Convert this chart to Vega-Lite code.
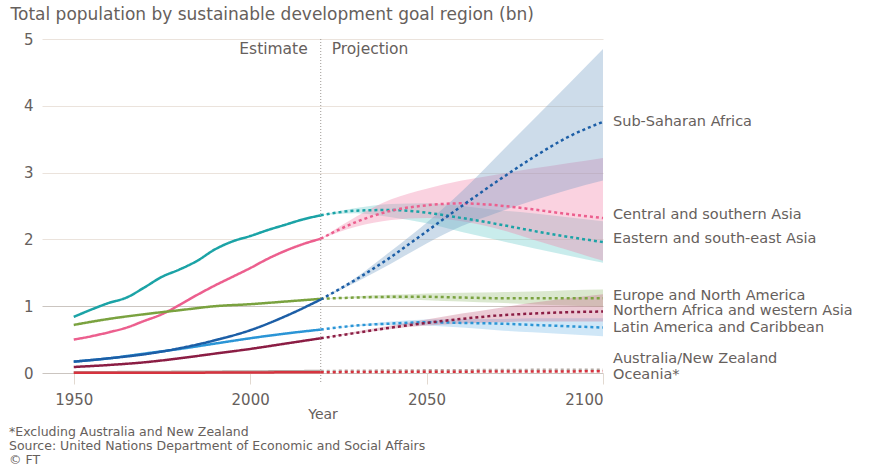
{
  "$schema": "https://vega.github.io/schema/vega-lite/v6.json",
  "width": 561,
  "height": 334,
  "autosize": {"type": "none"},
  "padding": {"left": 42, "top": 39, "right": 278, "bottom": 93},
  "background": "white",
  "config": {"view": {"stroke": null}, "font": "DejaVu Sans"},
  "title": {
    "text": ["*Excluding Australia and New Zealand", "Source: United Nations Department of Economic and Social Affairs", "© FT"],
    "orient": "bottom", "anchor": "start", "frame": "group", "dx": -33, "offset": 5,
    "fontSize": 12.5, "fontWeight": "normal", "color": "#66605c", "lineHeight": 14, "font": "DejaVu Sans"
  },
  "datasets": {
    "pop": [
      {"r": "Eastern and south-east Asia", "year": 1950, "v": 0.84, "p": "E"},
      {"r": "Eastern and south-east Asia", "year": 1955, "v": 0.95, "p": "E"},
      {"r": "Eastern and south-east Asia", "year": 1960, "v": 1.05, "p": "E"},
      {"r": "Eastern and south-east Asia", "year": 1965, "v": 1.13, "p": "E"},
      {"r": "Eastern and south-east Asia", "year": 1970, "v": 1.28, "p": "E"},
      {"r": "Eastern and south-east Asia", "year": 1975, "v": 1.44, "p": "E"},
      {"r": "Eastern and south-east Asia", "year": 1980, "v": 1.55, "p": "E"},
      {"r": "Eastern and south-east Asia", "year": 1985, "v": 1.68, "p": "E"},
      {"r": "Eastern and south-east Asia", "year": 1990, "v": 1.85, "p": "E"},
      {"r": "Eastern and south-east Asia", "year": 1995, "v": 1.97, "p": "E"},
      {"r": "Eastern and south-east Asia", "year": 2000, "v": 2.05, "p": "E"},
      {"r": "Eastern and south-east Asia", "year": 2005, "v": 2.14, "p": "E"},
      {"r": "Eastern and south-east Asia", "year": 2010, "v": 2.22, "p": "E"},
      {"r": "Eastern and south-east Asia", "year": 2015, "v": 2.30, "p": "E"},
      {"r": "Eastern and south-east Asia", "year": 2020, "v": 2.36, "p": "E"},
      {"r": "Eastern and south-east Asia", "year": 2020, "v": 2.36, "lo": 2.36, "hi": 2.36, "p": "P"},
      {"r": "Eastern and south-east Asia", "year": 2030, "v": 2.43, "lo": 2.39, "hi": 2.47, "p": "P"},
      {"r": "Eastern and south-east Asia", "year": 2040, "v": 2.44, "lo": 2.33, "hi": 2.53, "p": "P"},
      {"r": "Eastern and south-east Asia", "year": 2050, "v": 2.40, "lo": 2.24, "hi": 2.54, "p": "P"},
      {"r": "Eastern and south-east Asia", "year": 2060, "v": 2.32, "lo": 2.11, "hi": 2.50, "p": "P"},
      {"r": "Eastern and south-east Asia", "year": 2070, "v": 2.23, "lo": 1.99, "hi": 2.44, "p": "P"},
      {"r": "Eastern and south-east Asia", "year": 2080, "v": 2.13, "lo": 1.87, "hi": 2.39, "p": "P"},
      {"r": "Eastern and south-east Asia", "year": 2090, "v": 2.04, "lo": 1.76, "hi": 2.33, "p": "P"},
      {"r": "Eastern and south-east Asia", "year": 2100, "v": 1.96, "lo": 1.65, "hi": 2.27, "p": "P"},

      {"r": "Central and southern Asia", "year": 1950, "v": 0.50, "p": "E"},
      {"r": "Central and southern Asia", "year": 1955, "v": 0.55, "p": "E"},
      {"r": "Central and southern Asia", "year": 1960, "v": 0.61, "p": "E"},
      {"r": "Central and southern Asia", "year": 1965, "v": 0.68, "p": "E"},
      {"r": "Central and southern Asia", "year": 1970, "v": 0.78, "p": "E"},
      {"r": "Central and southern Asia", "year": 1975, "v": 0.88, "p": "E"},
      {"r": "Central and southern Asia", "year": 1980, "v": 1.02, "p": "E"},
      {"r": "Central and southern Asia", "year": 1985, "v": 1.17, "p": "E"},
      {"r": "Central and southern Asia", "year": 1990, "v": 1.31, "p": "E"},
      {"r": "Central and southern Asia", "year": 1995, "v": 1.44, "p": "E"},
      {"r": "Central and southern Asia", "year": 2000, "v": 1.57, "p": "E"},
      {"r": "Central and southern Asia", "year": 2005, "v": 1.71, "p": "E"},
      {"r": "Central and southern Asia", "year": 2010, "v": 1.83, "p": "E"},
      {"r": "Central and southern Asia", "year": 2015, "v": 1.93, "p": "E"},
      {"r": "Central and southern Asia", "year": 2020, "v": 2.01, "p": "E"},
      {"r": "Central and southern Asia", "year": 2020, "v": 2.01, "lo": 2.01, "hi": 2.01, "p": "P"},
      {"r": "Central and southern Asia", "year": 2030, "v": 2.26, "lo": 2.19, "hi": 2.34, "p": "P"},
      {"r": "Central and southern Asia", "year": 2040, "v": 2.43, "lo": 2.29, "hi": 2.60, "p": "P"},
      {"r": "Central and southern Asia", "year": 2050, "v": 2.51, "lo": 2.32, "hi": 2.76, "p": "P"},
      {"r": "Central and southern Asia", "year": 2060, "v": 2.54, "lo": 2.27, "hi": 2.88, "p": "P"},
      {"r": "Central and southern Asia", "year": 2070, "v": 2.51, "lo": 2.16, "hi": 2.97, "p": "P"},
      {"r": "Central and southern Asia", "year": 2080, "v": 2.45, "lo": 2.00, "hi": 3.06, "p": "P"},
      {"r": "Central and southern Asia", "year": 2090, "v": 2.38, "lo": 1.84, "hi": 3.14, "p": "P"},
      {"r": "Central and southern Asia", "year": 2100, "v": 2.32, "lo": 1.68, "hi": 3.22, "p": "P"},

      {"r": "Europe and North America", "year": 1950, "v": 0.72, "p": "E"},
      {"r": "Europe and North America", "year": 1960, "v": 0.81, "p": "E"},
      {"r": "Europe and North America", "year": 1970, "v": 0.88, "p": "E"},
      {"r": "Europe and North America", "year": 1980, "v": 0.94, "p": "E"},
      {"r": "Europe and North America", "year": 1990, "v": 1.00, "p": "E"},
      {"r": "Europe and North America", "year": 2000, "v": 1.03, "p": "E"},
      {"r": "Europe and North America", "year": 2010, "v": 1.07, "p": "E"},
      {"r": "Europe and North America", "year": 2020, "v": 1.11, "p": "E"},
      {"r": "Europe and North America", "year": 2020, "v": 1.11, "lo": 1.11, "hi": 1.11, "p": "P"},
      {"r": "Europe and North America", "year": 2030, "v": 1.13, "lo": 1.12, "hi": 1.15, "p": "P"},
      {"r": "Europe and North America", "year": 2040, "v": 1.14, "lo": 1.11, "hi": 1.17, "p": "P"},
      {"r": "Europe and North America", "year": 2050, "v": 1.14, "lo": 1.09, "hi": 1.19, "p": "P"},
      {"r": "Europe and North America", "year": 2060, "v": 1.13, "lo": 1.07, "hi": 1.20, "p": "P"},
      {"r": "Europe and North America", "year": 2070, "v": 1.12, "lo": 1.05, "hi": 1.21, "p": "P"},
      {"r": "Europe and North America", "year": 2080, "v": 1.12, "lo": 1.03, "hi": 1.22, "p": "P"},
      {"r": "Europe and North America", "year": 2090, "v": 1.12, "lo": 1.01, "hi": 1.24, "p": "P"},
      {"r": "Europe and North America", "year": 2100, "v": 1.12, "lo": 0.99, "hi": 1.25, "p": "P"},

      {"r": "Latin America and Caribbean", "year": 1950, "v": 0.17, "p": "E"},
      {"r": "Latin America and Caribbean", "year": 1960, "v": 0.22, "p": "E"},
      {"r": "Latin America and Caribbean", "year": 1970, "v": 0.29, "p": "E"},
      {"r": "Latin America and Caribbean", "year": 1980, "v": 0.36, "p": "E"},
      {"r": "Latin America and Caribbean", "year": 1990, "v": 0.44, "p": "E"},
      {"r": "Latin America and Caribbean", "year": 2000, "v": 0.52, "p": "E"},
      {"r": "Latin America and Caribbean", "year": 2010, "v": 0.59, "p": "E"},
      {"r": "Latin America and Caribbean", "year": 2020, "v": 0.65, "p": "E"},
      {"r": "Latin America and Caribbean", "year": 2020, "v": 0.65, "lo": 0.65, "hi": 0.65, "p": "P"},
      {"r": "Latin America and Caribbean", "year": 2030, "v": 0.71, "lo": 0.70, "hi": 0.72, "p": "P"},
      {"r": "Latin America and Caribbean", "year": 2040, "v": 0.74, "lo": 0.72, "hi": 0.77, "p": "P"},
      {"r": "Latin America and Caribbean", "year": 2050, "v": 0.76, "lo": 0.71, "hi": 0.80, "p": "P"},
      {"r": "Latin America and Caribbean", "year": 2060, "v": 0.75, "lo": 0.68, "hi": 0.81, "p": "P"},
      {"r": "Latin America and Caribbean", "year": 2070, "v": 0.74, "lo": 0.64, "hi": 0.81, "p": "P"},
      {"r": "Latin America and Caribbean", "year": 2080, "v": 0.72, "lo": 0.61, "hi": 0.82, "p": "P"},
      {"r": "Latin America and Caribbean", "year": 2090, "v": 0.70, "lo": 0.58, "hi": 0.82, "p": "P"},
      {"r": "Latin America and Caribbean", "year": 2100, "v": 0.68, "lo": 0.55, "hi": 0.82, "p": "P"},

      {"r": "Northern Africa and western Asia", "year": 1950, "v": 0.09, "p": "E"},
      {"r": "Northern Africa and western Asia", "year": 1960, "v": 0.12, "p": "E"},
      {"r": "Northern Africa and western Asia", "year": 1970, "v": 0.16, "p": "E"},
      {"r": "Northern Africa and western Asia", "year": 1980, "v": 0.22, "p": "E"},
      {"r": "Northern Africa and western Asia", "year": 1990, "v": 0.29, "p": "E"},
      {"r": "Northern Africa and western Asia", "year": 2000, "v": 0.36, "p": "E"},
      {"r": "Northern Africa and western Asia", "year": 2010, "v": 0.44, "p": "E"},
      {"r": "Northern Africa and western Asia", "year": 2020, "v": 0.52, "p": "E"},
      {"r": "Northern Africa and western Asia", "year": 2020, "v": 0.52, "lo": 0.52, "hi": 0.52, "p": "P"},
      {"r": "Northern Africa and western Asia", "year": 2030, "v": 0.60, "lo": 0.59, "hi": 0.62, "p": "P"},
      {"r": "Northern Africa and western Asia", "year": 2040, "v": 0.68, "lo": 0.66, "hi": 0.71, "p": "P"},
      {"r": "Northern Africa and western Asia", "year": 2050, "v": 0.75, "lo": 0.71, "hi": 0.80, "p": "P"},
      {"r": "Northern Africa and western Asia", "year": 2060, "v": 0.81, "lo": 0.74, "hi": 0.89, "p": "P"},
      {"r": "Northern Africa and western Asia", "year": 2070, "v": 0.86, "lo": 0.76, "hi": 0.97, "p": "P"},
      {"r": "Northern Africa and western Asia", "year": 2080, "v": 0.89, "lo": 0.77, "hi": 1.05, "p": "P"},
      {"r": "Northern Africa and western Asia", "year": 2090, "v": 0.91, "lo": 0.77, "hi": 1.12, "p": "P"},
      {"r": "Northern Africa and western Asia", "year": 2100, "v": 0.92, "lo": 0.77, "hi": 1.18, "p": "P"},

      {"r": "Sub-Saharan Africa", "year": 1950, "v": 0.17, "p": "E"},
      {"r": "Sub-Saharan Africa", "year": 1960, "v": 0.22, "p": "E"},
      {"r": "Sub-Saharan Africa", "year": 1970, "v": 0.28, "p": "E"},
      {"r": "Sub-Saharan Africa", "year": 1980, "v": 0.37, "p": "E"},
      {"r": "Sub-Saharan Africa", "year": 1990, "v": 0.49, "p": "E"},
      {"r": "Sub-Saharan Africa", "year": 2000, "v": 0.64, "p": "E"},
      {"r": "Sub-Saharan Africa", "year": 2010, "v": 0.85, "p": "E"},
      {"r": "Sub-Saharan Africa", "year": 2020, "v": 1.10, "p": "E"},
      {"r": "Sub-Saharan Africa", "year": 2020, "v": 1.10, "lo": 1.10, "hi": 1.10, "p": "P"},
      {"r": "Sub-Saharan Africa", "year": 2030, "v": 1.40, "lo": 1.36, "hi": 1.43, "p": "P"},
      {"r": "Sub-Saharan Africa", "year": 2040, "v": 1.74, "lo": 1.64, "hi": 1.83, "p": "P"},
      {"r": "Sub-Saharan Africa", "year": 2050, "v": 2.12, "lo": 1.94, "hi": 2.25, "p": "P"},
      {"r": "Sub-Saharan Africa", "year": 2060, "v": 2.50, "lo": 2.20, "hi": 2.72, "p": "P"},
      {"r": "Sub-Saharan Africa", "year": 2070, "v": 2.87, "lo": 2.40, "hi": 3.25, "p": "P"},
      {"r": "Sub-Saharan Africa", "year": 2080, "v": 3.22, "lo": 2.58, "hi": 3.78, "p": "P"},
      {"r": "Sub-Saharan Africa", "year": 2090, "v": 3.53, "lo": 2.74, "hi": 4.31, "p": "P"},
      {"r": "Sub-Saharan Africa", "year": 2100, "v": 3.76, "lo": 2.88, "hi": 4.85, "p": "P"},

      {"r": "Australia/New Zealand", "year": 1950, "v": 0.010, "p": "E"},
      {"r": "Australia/New Zealand", "year": 1970, "v": 0.015, "p": "E"},
      {"r": "Australia/New Zealand", "year": 1990, "v": 0.020, "p": "E"},
      {"r": "Australia/New Zealand", "year": 2010, "v": 0.026, "p": "E"},
      {"r": "Australia/New Zealand", "year": 2020, "v": 0.030, "p": "E"},
      {"r": "Australia/New Zealand", "year": 2020, "v": 0.030, "p": "P"},
      {"r": "Australia/New Zealand", "year": 2040, "v": 0.037, "p": "P"},
      {"r": "Australia/New Zealand", "year": 2060, "v": 0.042, "p": "P"},
      {"r": "Australia/New Zealand", "year": 2080, "v": 0.047, "p": "P"},
      {"r": "Australia/New Zealand", "year": 2100, "v": 0.049, "p": "P"},

      {"r": "Oceania*", "year": 1950, "v": 0.002, "p": "E"},
      {"r": "Oceania*", "year": 1970, "v": 0.004, "p": "E"},
      {"r": "Oceania*", "year": 1990, "v": 0.006, "p": "E"},
      {"r": "Oceania*", "year": 2010, "v": 0.010, "p": "E"},
      {"r": "Oceania*", "year": 2020, "v": 0.012, "p": "E"},
      {"r": "Oceania*", "year": 2020, "v": 0.012, "p": "P"},
      {"r": "Oceania*", "year": 2040, "v": 0.016, "p": "P"},
      {"r": "Oceania*", "year": 2060, "v": 0.020, "p": "P"},
      {"r": "Oceania*", "year": 2080, "v": 0.023, "p": "P"},
      {"r": "Oceania*", "year": 2100, "v": 0.025, "p": "P"}
    ],
    "labels": [
      {"name": "Sub-Saharan Africa", "ly": 3.755},
      {"name": "Central and southern Asia", "ly": 2.36},
      {"name": "Eastern and south-east Asia", "ly": 2.0},
      {"name": "Europe and North America", "ly": 1.16},
      {"name": "Northern Africa and western Asia", "ly": 0.925},
      {"name": "Latin America and Caribbean", "ly": 0.68},
      {"name": "Australia/New Zealand", "ly": 0.207},
      {"name": "Oceania*", "ly": -0.03}
    ]
  },
  "layer": [
    {
      "data": {"name": "pop"},
      "transform": [{"filter": "datum.p === 'P' && isValid(datum.lo)"}],
      "mark": {"type": "area", "interpolate": "monotone", "fillOpacity": 0.35},
      "encoding": {
        "x": {
          "field": "year", "type": "quantitative",
          "scale": {"domain": [1941, 2100], "nice": false, "zero": false},
          "axis": {
            "values": [1950, 2000, 2050, 2100], "format": "d", "grid": false, "domain": false,
            "ticks": true, "tickSize": 11, "tickColor": "#e2d9d0", "labelPadding": 8,
            "labelFontSize": 15, "labelColor": "#66605c", "labelFont": "DejaVu Sans",
            "title": "Year", "titleFontSize": 14, "titleFontWeight": "normal", "titleColor": "#66605c",
            "titleFont": "DejaVu Sans", "titlePadding": 0
          }
        },
        "y": {
          "field": "lo", "type": "quantitative", "stack": null,
          "scale": {"domain": [0, 5], "nice": false, "zero": false},
          "axis": {
            "values": [0, 1, 2, 3, 4, 5], "format": "d", "grid": true,
            "gridColor": {"condition": {"test": "datum.value <= 1", "value": "#cbc5c0"}, "value": "#ebe3dc"},
            "ticks": false, "domain": false, "labelPadding": 9, "labelFontSize": 15,
            "labelColor": "#66605c", "labelFont": "DejaVu Sans",
            "title": "Total population by sustainable development goal region (bn)",
            "titleAngle": 0, "titleAlign": "left", "titleBaseline": "middle", "titleX": -32, "titleY": -25,
            "titleFontSize": 17, "titleFontWeight": "normal", "titleColor": "#66605c", "titleFont": "DejaVu Sans"
          }
        },
        "y2": {"field": "hi"},
        "color": {
          "field": "r", "type": "nominal", "legend": null,
          "scale": {
            "domain": ["Eastern and south-east Asia", "Central and southern Asia", "Europe and North America", "Latin America and Caribbean", "Northern Africa and western Asia", "Sub-Saharan Africa"],
            "range": ["#65c9c9", "#f17ea6", "#98bd76", "#79bae8", "#c66a87", "#709bc3"]
          }
        }
      }
    },
    {
      "data": {"values": [{"year": 2020}]},
      "mark": {"type": "rule", "color": "#9e9893", "strokeDash": [1, 2], "strokeWidth": 1},
      "encoding": {
        "x": {"field": "year", "type": "quantitative"},
        "y": {"datum": 5},
        "y2": {"datum": -0.15}
      }
    },
    {
      "data": {"name": "pop"},
      "mark": {"type": "line", "strokeWidth": 2.5, "interpolate": "monotone"},
      "encoding": {
        "x": {"field": "year", "type": "quantitative"},
        "y": {"field": "v", "type": "quantitative"},
        "color": {
          "field": "r", "type": "nominal", "legend": null,
          "scale": {
            "domain": ["Eastern and south-east Asia", "Central and southern Asia", "Europe and North America", "Latin America and Caribbean", "Northern Africa and western Asia", "Sub-Saharan Africa", "Australia/New Zealand", "Oceania*"],
            "range": ["#1ba3a6", "#ec5f8e", "#7aa23f", "#2b95d6", "#8b1d44", "#1c5ea6", "#b3aaa4", "#d6333f"]
          }
        },
        "strokeDash": {
          "field": "p", "type": "nominal", "legend": null,
          "scale": {"domain": ["E", "P"], "range": [[1, 0], [3, 3]]}
        }
      }
    },
    {
      "data": {"name": "labels"},
      "mark": {"type": "text", "align": "left", "baseline": "middle", "dx": 10, "fontSize": 14.5, "color": "#66605c", "font": "DejaVu Sans"},
      "encoding": {
        "x": {"datum": 2100},
        "y": {"field": "ly", "type": "quantitative"},
        "text": {"field": "name"}
      }
    },
    {
      "data": {"values": [{"t": "Estimate"}]},
      "mark": {"type": "text", "align": "right", "baseline": "middle", "dx": -13, "fontSize": 15.5, "color": "#66605c", "font": "DejaVu Sans"},
      "encoding": {
        "x": {"datum": 2020},
        "y": {"datum": 4.85},
        "text": {"field": "t"}
      }
    },
    {
      "data": {"values": [{"t": "Projection"}]},
      "mark": {"type": "text", "align": "left", "baseline": "middle", "dx": 11, "fontSize": 15.5, "color": "#66605c", "font": "DejaVu Sans"},
      "encoding": {
        "x": {"datum": 2020},
        "y": {"datum": 4.85},
        "text": {"field": "t"}
      }
    }
  ],
  "resolve": {"scale": {"color": "independent"}}
}
